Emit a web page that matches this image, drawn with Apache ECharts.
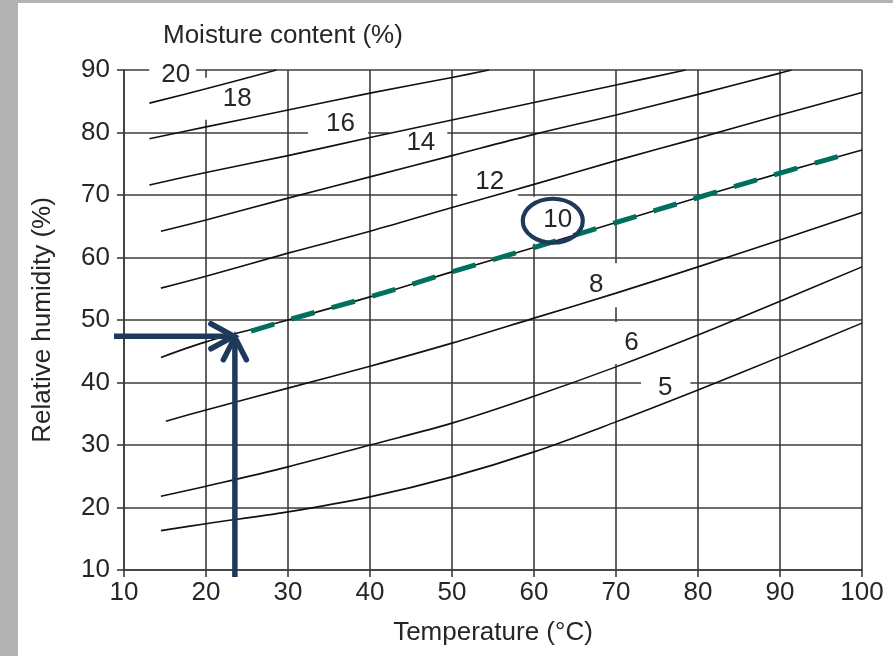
<!DOCTYPE html>
<html>
<head>
<meta charset="utf-8">
<script src="https://cdn.jsdelivr.net/npm/echarts@6/dist/echarts.min.js"></script>
<style>
  html, body { margin: 0; padding: 0; background: #ffffff; }
  #chart { width: 893px; height: 656px; }
</style>
</head>
<body>
<div id="chart"></div>
<script>
// Equilibrium moisture content chart: relative humidity vs. temperature,
// one curve per moisture content level.

const temperatureTicks = [10, 20, 30, 40, 50, 60, 70, 80, 90, 100];
const humidityTicks = [10, 20, 30, 40, 50, 60, 70, 80, 90];

// [temperature °C, relative humidity %] along each moisture-content curve
const mc20 = [[13.1, 84.7], [20, 87.0], [28.6, 90]];
const mc18 = [[13.1, 79.0], [20, 80.9], [30, 83.6], [40, 86.3], [50, 88.8], [54.5, 90]];
const mc16 = [[13.1, 71.6], [20, 73.6], [30, 76.3], [40, 79.2], [50, 82.0], [60, 84.8], [70, 87.6], [78.5, 90]];
const mc14 = [[14.5, 64.2], [20, 66.0], [30, 69.5], [40, 72.9], [50, 76.3], [60, 79.7], [70, 82.8], [80, 86.1], [90, 89.5], [91.4, 90]];
const mc12 = [[14.5, 55.1], [20, 57.0], [30, 60.7], [40, 64.2], [50, 68.0], [60, 71.7], [70, 75.5], [80, 79.1], [90, 82.8], [100, 86.4]];
const mc10 = [[14.5, 44.0], [20, 46.5], [30, 50.0], [40, 53.7], [50, 57.7], [60, 61.6], [70, 65.6], [80, 69.6], [90, 73.5], [100, 77.2]];
const mc8  = [[15.1, 33.8], [20, 35.6], [30, 39.1], [40, 42.6], [50, 46.3], [60, 50.3], [70, 54.3], [80, 58.5], [90, 62.8], [100, 67.2]];
const mc6  = [[14.5, 21.8], [20, 23.4], [30, 26.5], [40, 30.0], [50, 33.5], [60, 37.8], [70, 42.5], [80, 47.6], [90, 53.0], [100, 58.5]];
const mc5  = [[14.5, 16.3], [20, 17.4], [30, 19.3], [40, 21.7], [50, 24.9], [60, 28.9], [70, 33.7], [80, 38.8], [90, 44.1], [100, 49.5]];

// Highlighted path along the 10 % curve, starting at the reading point
const readingPoint = [23.4, 47.4];
const highlightedPath = [[23.4, 47.4], [30, 50.0], [40, 53.7], [50, 57.7], [60, 61.6], [70, 65.6], [80, 69.6], [90, 73.5], [98, 76.5]];

// Curve labels and where they sit (temperature, humidity)
const curveLabels = ['20', '18', '16', '14', '12', '10', '8', '6', '5'];
const labelTemps = [16.3, 23.8, 36.4, 46.2, 54.6, 62.9, 67.6, 71.9, 76.0];
const labelHumidity = [89.0, 85.4, 81.7, 78.2, 72.4, 65.4, 55.9, 46.8, 39.1];

const curves = [mc20, mc18, mc16, mc14, mc12, mc10, mc8, mc6, mc5];

// White boxes behind the curve labels [top, right, bottom, left]
const labelPads = [
  [2, 6, 0, 12],
  [8, 4, 8, 23],
  [0, 13, 3, 18],
  [2, 12, 0, 17],
  [0, 14, 4, 18],
  [14, 6, 7, 14],
  [7, 16, 11, 6],
  [5, 6, 11, 13],
  [0, 18, 0, 17]
];

const FONT = '"Liberation Sans", Arial, Helvetica, sans-serif';
const TEXT = '#262626';
const GRID = '#3c3c3c';
const NAVY = '#1e3a5b';
const TEAL = '#00705e';

const chart = echarts.init(document.getElementById('chart'), null, { renderer: 'canvas' });

const curveSeries = curves.map(function (pts, i) {
  return {
    name: curveLabels[i] + ' %',
    type: 'line',
    data: pts,
    showSymbol: false,
    smooth: 0.35,
    lineStyle: { color: '#111111', width: 1.6 },
    z: 3,
    silent: true
  };
});

const labelData = curveLabels.map(function (txt, i) {
  const p = labelPads[i];
  return {
    value: [labelTemps[i], labelHumidity[i]],
    label: {
      formatter: txt,
      padding: p,
      offset: [(p[1] - p[3]) / 2, (p[2] - p[0]) / 2]
    }
  };
});

const option = {
  backgroundColor: '#ffffff',
  animation: false,
  title: {
    text: 'Moisture content (%)',
    left: 163,
    top: 23,
    padding: 0,
    textStyle: { fontFamily: FONT, fontSize: 26, fontWeight: 'normal', color: TEXT }
  },
  grid: { left: 124, right: 31, top: 70, bottom: 86, containLabel: false },
  xAxis: {
    type: 'value',
    min: 10, max: 100, interval: 10,
    name: 'Temperature (°C)',
    nameLocation: 'middle',
    nameGap: 50,
    nameTextStyle: { fontFamily: FONT, fontSize: 26, color: TEXT },
    axisLine: { show: true, lineStyle: { color: GRID, width: 1.6 } },
    axisTick: { show: true, inside: false, length: 7, lineStyle: { color: GRID, width: 1.6 } },
    axisLabel: {
      fontFamily: FONT, fontSize: 26, color: TEXT, margin: 10,
      formatter: function (v) { return temperatureTicks.indexOf(v) >= 0 ? String(v) : ''; }
    },
    splitLine: { show: true, lineStyle: { color: GRID, width: 1.6 } }
  },
  yAxis: {
    type: 'value',
    min: 10, max: 90, interval: 10,
    name: 'Relative humidity (%)',
    nameLocation: 'middle',
    nameGap: 68,
    nameRotate: 90,
    nameTextStyle: { fontFamily: FONT, fontSize: 26, color: TEXT },
    axisLine: { show: true, lineStyle: { color: GRID, width: 1.6 } },
    axisTick: { show: true, inside: false, length: 7, lineStyle: { color: GRID, width: 1.6 } },
    axisLabel: {
      fontFamily: FONT, fontSize: 26, color: TEXT, margin: 14,
      formatter: function (v) { return humidityTicks.indexOf(v) >= 0 ? String(v) : ''; }
    },
    splitLine: { show: true, lineStyle: { color: GRID, width: 1.6 } }
  },
  series: [
    {
      name: 'labels',
      type: 'scatter',
      data: labelData,
      symbolSize: 0,
      itemStyle: { opacity: 1 },
      z: 1,
      silent: true,
      label: {
        show: true,
        position: 'inside',
        fontFamily: FONT,
        fontSize: 26,
        lineHeight: 26,
        color: TEXT,
        opacity: 1,
        textBorderWidth: 0,
        backgroundColor: '#ffffff'
      }
    }
  ].concat(curveSeries).concat([
    {
      name: 'path',
      type: 'line',
      data: highlightedPath,
      showSymbol: false,
      smooth: 0.35,
      lineStyle: { color: TEAL, width: 5, type: [24, 18], dashOffset: 24, cap: 'butt' },
      z: 4,
      silent: true
    }
  ])
};

chart.setOption(option);

// Annotations: reading arrows and highlight ring
const tip = chart.convertToPixel({ gridIndex: 0 }, readingPoint);
const corner = chart.convertToPixel({ gridIndex: 0 }, [10, 10]);
const ring = chart.convertToPixel({ gridIndex: 0 }, [labelTemps[5], labelHumidity[5]]);

const arrowStyle = { stroke: NAVY, lineWidth: 5.5, fill: null, lineCap: 'round', lineJoin: 'miter' };

chart.setOption({
  graphic: [
    { type: 'rect', shape: { x: 0, y: 0, width: 18, height: 656 }, style: { fill: '#b3b3b3' }, z: 100 },
    { type: 'rect', shape: { x: 0, y: 0, width: 893, height: 3 }, style: { fill: '#b3b3b3' }, z: 100 },
    { type: 'polyline', shape: { points: [[corner[0] - 10, tip[1]], [tip[0] - 2, tip[1]]] },
      style: Object.assign({}, arrowStyle, { lineCap: 'butt' }), z: 50 },
    { type: 'polyline', shape: { points: [[tip[0] - 23, tip[1] - 12.5], [tip[0], tip[1]], [tip[0] - 23, tip[1] + 12.5]] },
      style: arrowStyle, z: 50 },
    { type: 'polyline', shape: { points: [[tip[0] + 1, corner[1] + 7], [tip[0] + 1, tip[1] + 2]] },
      style: Object.assign({}, arrowStyle, { lineCap: 'butt' }), z: 50 },
    { type: 'polyline', shape: { points: [[tip[0] - 10.5, tip[1] + 23.5], [tip[0] + 1, tip[1] + 1], [tip[0] + 12.5, tip[1] + 23.5]] },
      style: arrowStyle, z: 50 },
    { type: 'ellipse', shape: { cx: ring[0] - 5, cy: ring[1] - 3, rx: 30, ry: 22 },
      style: { stroke: NAVY, lineWidth: 4.2, fill: null }, z: 50 }
  ]
});
</script>
</body>
</html>
